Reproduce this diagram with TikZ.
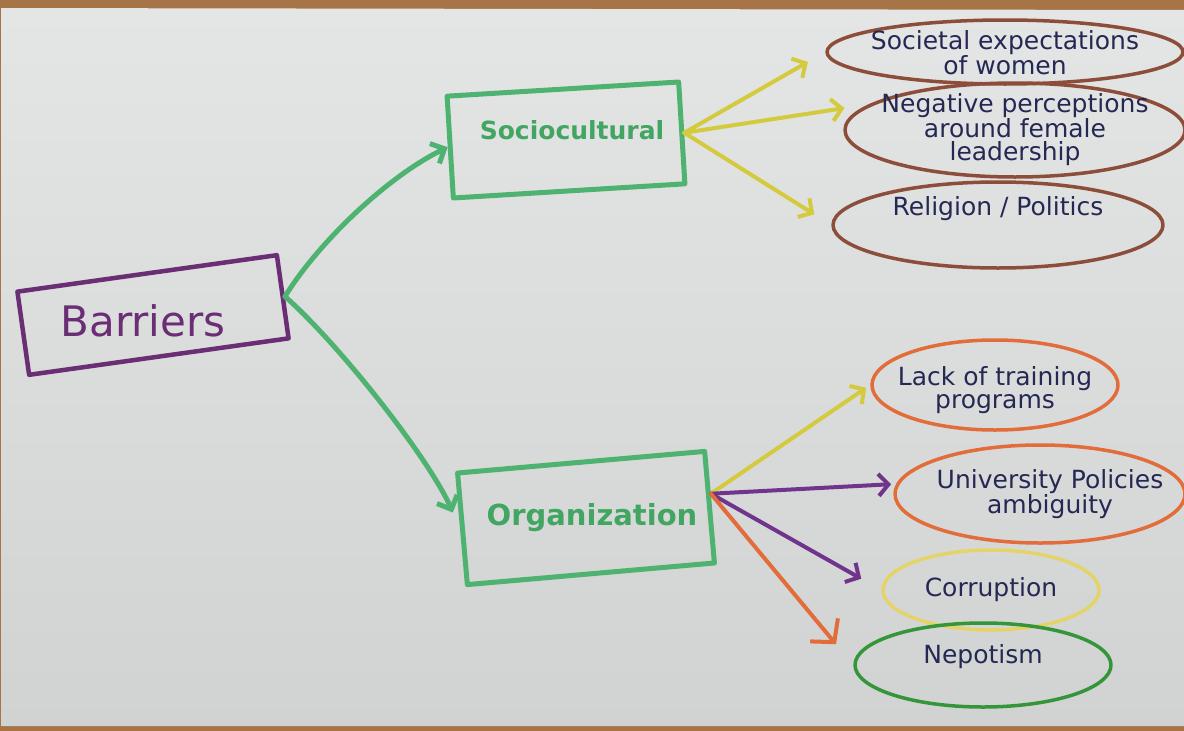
\documentclass[tikz,border=0pt]{standalone}
\usepackage{fontspec}
\setmainfont{DejaVu Sans}
\newfontfamily\handfont{DejaVu Sans}
\usetikzlibrary{arrows.meta,shapes.geometric}

% paper, desk and pen colours
\definecolor{paperhi}{RGB}{228,230,229}
\definecolor{paperlo}{RGB}{208,211,210}
\definecolor{wood}{RGB}{166,116,70}
\definecolor{plum}{RGB}{106,46,116}
\definecolor{marker}{RGB}{78,178,112}
\definecolor{markertext}{RGB}{66,166,98}
\definecolor{crayony}{RGB}{212,202,62}
\definecolor{crayonbr}{RGB}{140,78,58}
\definecolor{crayonor}{RGB}{226,108,58}
\definecolor{crayonyl}{RGB}{228,212,104}
\definecolor{crayongr}{RGB}{52,150,56}
\definecolor{crayonpu}{RGB}{112,52,140}
\definecolor{ink}{RGB}{38,40,84}

\begin{document}
\begin{tikzpicture}[x=1pt, y=-1pt, line cap=round, line join=round,
  box/.style={draw=marker, rectangle, line width=5pt, inner sep=0pt},
  bubble/.style={draw=#1, ellipse, line width=3.5pt, inner sep=0pt},
  lab/.style={font=\handfont\fontsize{25pt}{23pt}\selectfont, text=ink, align=center},
  boxlab/.style={text=markertext, font=\handfont\bfseries\fontsize{#1}{#1}\selectfont},
  gconn/.style={draw=marker, line width=5pt, -{Straight Barb[length=11pt,width=22pt]}},
  cconn/.style={draw=#1, line width=4pt, -{Straight Barb[length=10pt,width=22pt]}}]

\useasboundingbox (0,0) rectangle (1184,731);

% sheet of paper on the desk
\fill[wood] (0,0) rectangle (1184,731);
\shade[top color=paperhi, bottom color=paperlo] (1,8) -- (1184,10) -- (1184,726) -- (1,726) -- cycle;

% category boxes (the frames are tilted, the words stay level)
\node[box, draw=plum, line width=4.5pt, minimum width=262pt, minimum height=84pt, rotate=8,
      label={[text=plum, font=\handfont\fontsize{42pt}{42pt}\selectfont, xshift=-10pt, yshift=-6pt]center:Barriers}] (bar) at (153,315) {};
\node[box, minimum width=232pt, minimum height=102pt, rotate=3.5,
      label={[boxlab=25pt, xshift=6pt, yshift=10pt]center:Sociocultural}] (soc) at (566,140) {};
\node[box, minimum width=248pt, minimum height=112pt, rotate=5,
      label={[boxlab=29pt, xshift=6pt]center:Organization}] (org) at (586,518) {};

% sociocultural barriers
\node[bubble=crayonbr, minimum width=356pt, minimum height=64pt,
      label={[lab, yshift=-1pt]center:Societal expectations\\of women}] (e1) at (1005,52) {};
\node[bubble=crayonbr, minimum width=340pt, minimum height=94pt,
      label={[lab]center:Negative perceptions\\around female\\leadership}] (e2) at (1015,130) {};
\node[bubble=crayonbr, minimum width=330pt, minimum height=86pt,
      label={[lab, yshift=16pt]center:Religion / Politics}] (e3) at (998,225) {};

% organizational barriers
\node[bubble=crayonor, minimum width=246pt, minimum height=90pt,
      label={[lab, yshift=-5pt]center:Lack of training\\programs}] (e4) at (995,385) {};
\node[bubble=crayonor, minimum width=290pt, minimum height=98pt,
      label={[lab, xshift=10pt]center:University Policies\\ambiguity}] (e5) at (1040,494) {};
\node[bubble=crayonyl, minimum width=216pt, minimum height=80pt,
      label={[lab]center:Corruption}] (e6) at (991,590) {};
\node[bubble=crayongr, minimum width=256pt, minimum height=84pt,
      label={[lab, yshift=8pt]center:Nepotism}] (e7) at (983,665) {};

% barriers split into two groups
\draw[gconn] (bar.east) .. controls (320,240) and (390,175) .. (soc.west);
\draw[gconn, shorten >=18pt] (bar.east) .. controls (340,345) and (430,460) .. (org.west);

% sociocultural branches
\draw[cconn=crayony, shorten >=20pt] (soc.east) -- (e1.west);
\draw[cconn=crayony, shorten >=25pt] (soc.east) -- (e2.170);
\draw[cconn=crayony, shorten >=20pt] (soc.east) -- (e3.west);

% organizational branches
\draw[cconn=crayony, shorten >=5pt] (org.6) -- (e4.west);
\draw[cconn=crayonpu, shorten >=5pt] (org.6) -- (e5.176);
\draw[cconn=crayonpu, shorten >=23pt] (org.6) -- (e6.west);
\draw[draw=crayonor, line width=4pt, -{Straight Barb[length=16pt,width=36pt]}, shorten >=27pt] (org.6) -- (e7.west);

\end{tikzpicture}
\end{document}
